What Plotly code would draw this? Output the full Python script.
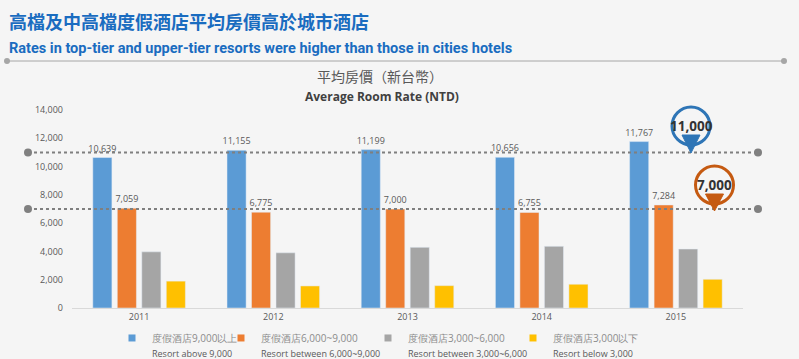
import plotly.graph_objects as go

years = ["2011", "2012", "2013", "2014", "2015"]
above_9000 = [10639, 11155, 11199, 10656, 11767]
between_6000_9000 = [7059, 6775, 7000, 6755, 7284]
between_3000_6000 = [3970, 3900, 4290, 4360, 4170]
below_3000 = [1900, 1560, 1580, 1680, 2030]

series_names_zh = ["度假酒店9,000以上", "度假酒店6,000~9,000", "度假酒店3,000~6,000", "度假酒店3,000以下"]
series_names_en = ["Resort above 9,000", "Resort between 6,000~9,000", "Resort between 3,000~6,000", "Resort below 3,000"]
colors = ["#5b9bd5", "#ed7d31", "#a5a5a5", "#ffc000"]
ref_levels = [11000, 7000]
ref_labels = ["11,000", "7,000"]

W, H = 799, 359
L, R, T, B = 72, 56, 110, 51
PW, PH = W - L - R, H - T - B


def xp(px):
    return (px - L) / PW


def yp(py):
    return (H - B - py) / PH


BG = "#f5f5f5"
fig = go.Figure()
all_series = [above_9000, between_6000_9000, between_3000_6000, below_3000]
for i, vals in enumerate(all_series):
    labeled = i < 2
    fig.add_trace(go.Bar(
        x=years, y=vals, marker_color=colors[i], showlegend=False,
        name=series_names_en[i],
        texttemplate="%{y:,}" if labeled else None,
        textposition="outside" if labeled else "none",
        textfont=dict(size=9, color="#595959", family="Open Sans"),
        constraintext="none",
        cliponaxis=False,
    ))

legend_keys = ["legend", "legend2", "legend3", "legend4"]
text_starts = [152, 261, 408, 553]
for i in range(4):
    fig.add_trace(go.Scatter(
        x=[None], y=[None], mode="markers",
        marker=dict(symbol="square", size=7, color=colors[i]),
        name=("<span style='font-size:10px;color:#8c8c8c'>" + series_names_zh[i] + "</span><br>"
              "<span style='font-size:9px;color:#595959'>" + series_names_en[i] + "</span>"),
        legend=legend_keys[i], showlegend=True,
    ))

legends = {}
for i, k in enumerate(legend_keys):
    legends[k] = dict(
        x=xp(text_starts[i] - 40), xanchor="left", y=yp(324), yanchor="top",
        orientation="h", bgcolor="rgba(0,0,0,0)", borderwidth=0,
        font=dict(size=11.5, family="Open Sans", color="#595959"),
        valign="top", itemwidth=30,
    )

shapes = []
shapes.append(dict(type="line", xref="paper", yref="paper", x0=xp(7), x1=xp(784),
                   y0=yp(61), y1=yp(61), line=dict(color="#a6a6a6", width=1), layer="below"))
for px in (7, 784):
    shapes.append(dict(type="circle", xref="paper", yref="paper", xsizemode="pixel", ysizemode="pixel",
                       xanchor=xp(px), yanchor=yp(61), x0=-3, x1=3, y0=-3, y1=3,
                       fillcolor="#a6a6a6", line=dict(width=0)))
for lv in ref_levels:
    shapes.append(dict(type="line", xref="paper", yref="y", x0=xp(28), x1=xp(758), y0=lv, y1=lv,
                       line=dict(color="#7f7f7f", width=2, dash="dot")))
    for px in (28, 758):
        shapes.append(dict(type="circle", xref="paper", yref="y", xsizemode="pixel", ysizemode="pixel",
                           xanchor=xp(px), yanchor=lv, x0=-4, x1=4, y0=-4, y1=4,
                           fillcolor="#808080", line=dict(width=0)))

pins = [(691, 153, 126, 19, "#2e75b6"), (714.5, 211, 185, 19, "#c55a11")]
annotations = []
for (cx, tip, cy, r, col), lbl in zip(pins, ref_labels):
    off = tip - cy
    shapes.append(dict(type="circle", xref="paper", yref="paper", xsizemode="pixel", ysizemode="pixel",
                       xanchor=xp(cx), yanchor=yp(tip), x0=-r, x1=r, y0=off - r, y1=off + r,
                       fillcolor=BG, line=dict(color=col, width=3)))
    shapes.append(dict(type="path", xref="paper", yref="paper", xsizemode="pixel", ysizemode="pixel",
                       xanchor=xp(cx), yanchor=yp(tip),
                       path="M -9,%d L 9,%d L 0,0 Z" % (off - r + 10, off - r + 10),
                       fillcolor=col, line=dict(color=col, width=1)))
    annotations.append(dict(xref="paper", yref="paper", x=xp(cx), y=yp(cy), text="<b>" + lbl + "</b>",
                            showarrow=False, xanchor="center", yanchor="middle",
                            font=dict(size=13.5, color="#333333", family="Open Sans")))

annotations += [
    dict(xref="paper", yref="paper", x=xp(7), y=yp(21), xanchor="left", yanchor="middle", showarrow=False,
         text="<b>高檔及中高檔度假酒店平均房價高於城市酒店</b>",
         font=dict(size=18, color="#1a6cc0", family="Noto Sans CJK TC")),
    dict(xref="paper", yref="paper", x=xp(7), y=yp(48), xanchor="left", yanchor="middle", showarrow=False,
         text="<b>Rates in top-tier and upper-tier resorts were higher than those in cities hotels</b>",
         font=dict(size=14.5, color="#1a6cc0", family="Roboto")),
    dict(xref="paper", yref="paper", x=xp(380), y=yp(76), xanchor="center", yanchor="middle", showarrow=False,
         text="平均房價（新台幣）",
         font=dict(size=14, color="#595959", family="Noto Sans CJK TC")),
    dict(xref="paper", yref="paper", x=xp(382), y=yp(96), xanchor="center", yanchor="middle", showarrow=False,
         text="<b>Average Room Rate (NTD)</b>",
         font=dict(size=12, color="#404040", family="Open Sans")),
]

fig.update_layout(
    width=W, height=H, margin=dict(l=L, r=R, t=T, b=B, pad=0, autoexpand=False),
    paper_bgcolor=BG, plot_bgcolor=BG,
    barmode="group", bargap=0.27, bargroupgap=0.22,
    font=dict(family="Open Sans", color="#595959", size=9),
    shapes=shapes, annotations=annotations,
    **legends,
)
fig.update_xaxes(type="category", showline=True, linecolor="#d9d9d9", linewidth=1,
                 showgrid=False, ticks="", tickfont=dict(size=9, color="#595959"))
fig.update_yaxes(range=[0, 14000], dtick=2000, tickformat=",", showgrid=False, zeroline=False,
                 showline=False, ticks="", ticklabelstandoff=8, tickfont=dict(size=9, color="#595959"))

fig.write_html("out.html", config={"displayModeBar": False},
               post_script="document.body.style.margin='0';document.body.style.background='%s';" % BG)
